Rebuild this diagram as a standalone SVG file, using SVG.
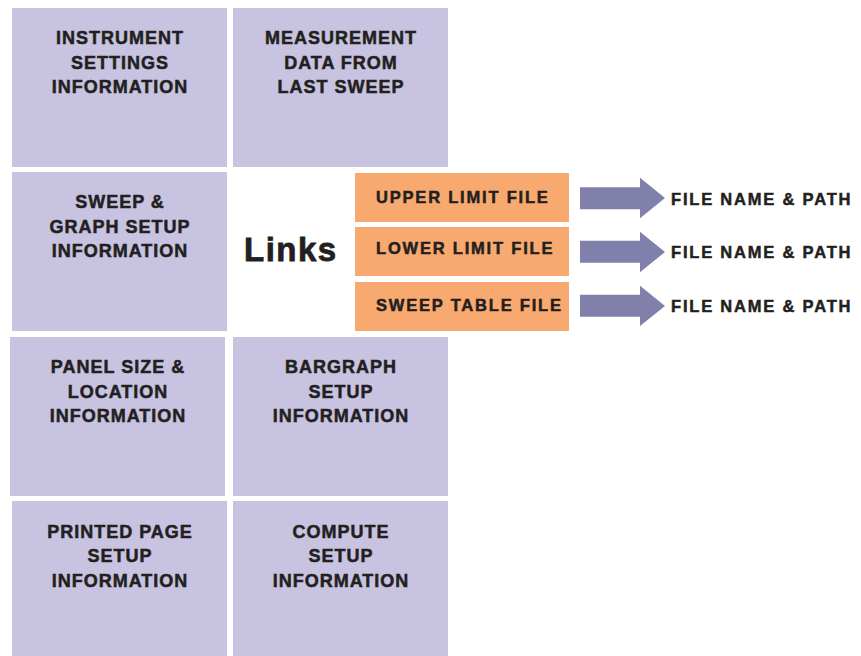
<svg xmlns="http://www.w3.org/2000/svg" width="861" height="656" viewBox="0 0 861 656">
<style>
.box{fill:#C7C3E1}
.file{fill:#F7A96F}
.arrow{fill:#8180AA}
text{font-family:"Liberation Sans",Arial,sans-serif;font-weight:bold;fill:#231F20;stroke:#231F20;stroke-width:0.5}
.bt{font-size:18px;letter-spacing:1px;text-anchor:middle}
.ft{font-size:16.5px;letter-spacing:1.8px}
.lk{font-size:33px;letter-spacing:1.5px;stroke-width:0.8}
</style>
<rect width="861" height="656" fill="#FFFFFF"/>
<g id="instrument"><rect class="box" x="12" y="8" width="215" height="159"/>
<text class="bt" x="120"><tspan x="120" y="44.3">INSTRUMENT</tspan><tspan x="120" y="68.5">SETTINGS</tspan><tspan x="120" y="93">INFORMATION</tspan></text></g>
<g id="measurement"><rect class="box" x="233" y="8" width="215" height="159"/>
<text class="bt"><tspan x="341" y="44.3">MEASUREMENT</tspan><tspan x="341" y="68.5">DATA FROM</tspan><tspan x="341" y="93">LAST SWEEP</tspan></text></g>
<g id="sweep"><rect class="box" x="12" y="172" width="215" height="159"/>
<text class="bt"><tspan x="120" y="208.3">SWEEP &amp;</tspan><tspan x="120" y="232.5">GRAPH SETUP</tspan><tspan x="120" y="257">INFORMATION</tspan></text></g>
<g id="links"><text class="lk" x="244" y="260.7">Links</text></g>
<g id="upper"><rect class="file" x="355" y="173" width="214" height="49"/><text class="ft" x="376" y="202.7">UPPER LIMIT FILE</text></g>
<g id="lower"><rect class="file" x="355" y="227" width="214" height="49"/><text class="ft" x="376" y="254">LOWER LIMIT FILE</text></g>
<g id="table"><rect class="file" x="355" y="282" width="214" height="49"/><text class="ft" x="376" y="310.7">SWEEP TABLE FILE</text></g>
<g id="path1"><text class="ft" x="671" y="205">FILE NAME &amp; PATH</text></g>
<g id="path2"><text class="ft" x="671" y="258.3">FILE NAME &amp; PATH</text></g>
<g id="path3"><text class="ft" x="671" y="312.3">FILE NAME &amp; PATH</text></g>
<g id="panel"><rect class="box" x="10" y="337" width="215" height="159"/>
<text class="bt"><tspan x="118" y="373.3">PANEL SIZE &amp;</tspan><tspan x="118" y="397.7">LOCATION</tspan><tspan x="118" y="422.3">INFORMATION</tspan></text></g>
<g id="bargraph"><rect class="box" x="233" y="337" width="215" height="159"/>
<text class="bt"><tspan x="341" y="373.3">BARGRAPH</tspan><tspan x="341" y="397.7">SETUP</tspan><tspan x="341" y="422.3">INFORMATION</tspan></text></g>
<g id="printed"><rect class="box" x="12" y="501" width="215" height="155"/>
<text class="bt"><tspan x="120" y="537.7">PRINTED PAGE</tspan><tspan x="120" y="562.3">SETUP</tspan><tspan x="120" y="586.7">INFORMATION</tspan></text></g>
<g id="compute"><rect class="box" x="233" y="501" width="215" height="155"/>
<text class="bt"><tspan x="341" y="537.7">COMPUTE</tspan><tspan x="341" y="562.3">SETUP</tspan><tspan x="341" y="586.7">INFORMATION</tspan></text></g>
<g id="connectors">
<polygon class="arrow" points="580,187.3 640,187.3 640,177.7 665,198 640,218.3 640,209.3 580,209.3"/>
<polygon class="arrow" points="580,240.7 640,240.7 640,231.7 665,252 640,272.3 640,262.7 580,262.7"/>
<polygon class="arrow" points="580,294.7 640,294.7 640,285.7 665,306 640,326 640,316.7 580,316.7"/>
</g>
</svg>
